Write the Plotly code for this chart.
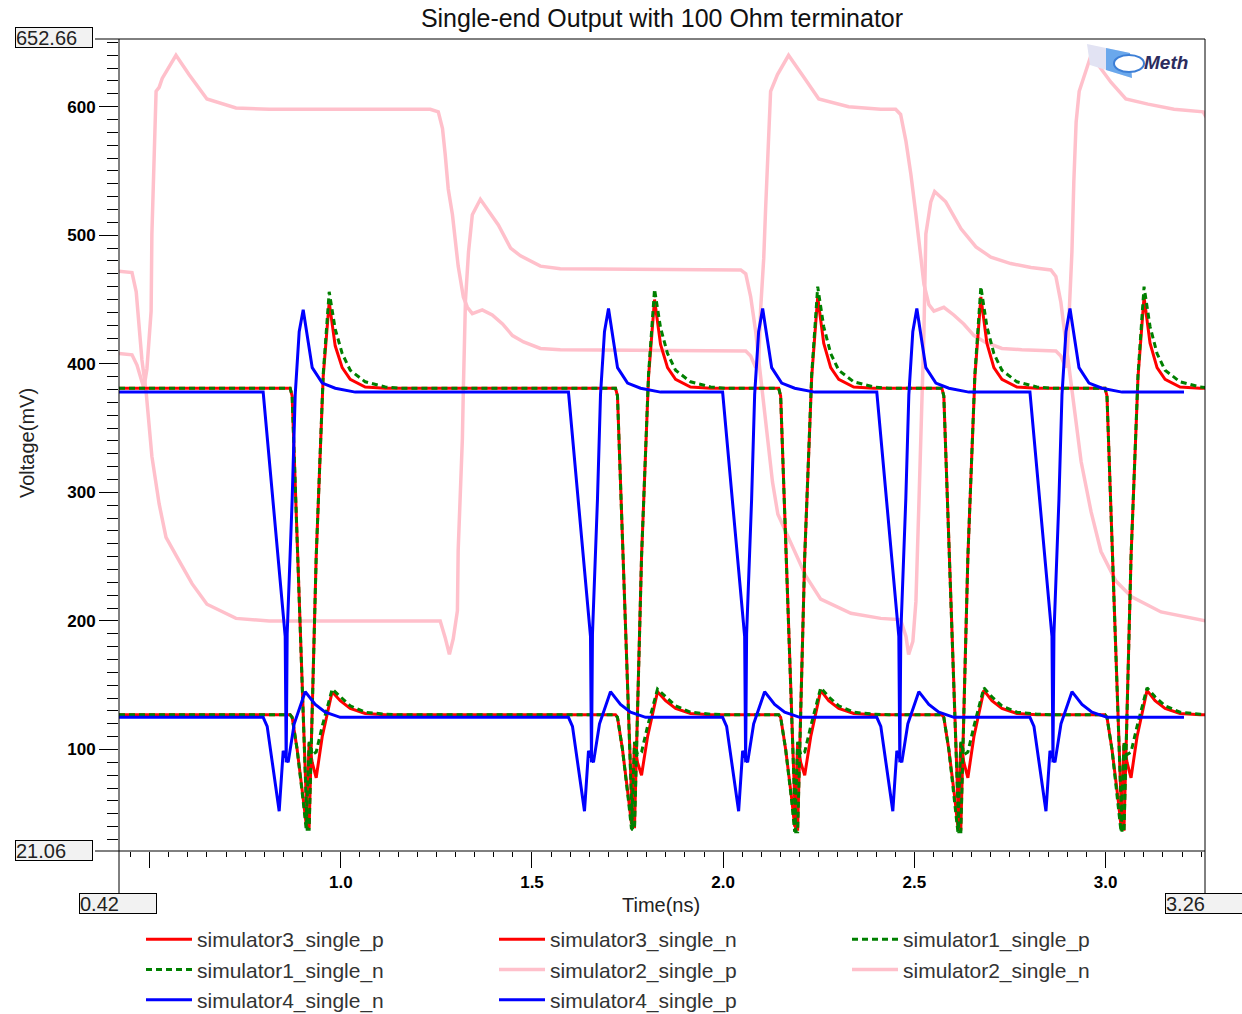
import plotly.graph_objects as go

# ---------------- data (time in ns, voltage in mV) ----------------
sim2_p_t = [0.420, 0.454, 0.465, 0.472, 0.480, 0.491, 0.499, 0.506, 0.525, 0.543, 0.577, 0.611, 0.650, 0.726, 0.813,
            1.260, 1.273, 1.281, 1.284, 1.294, 1.305, 1.307, 1.313, 1.318, 1.3205, 1.323, 1.326, 1.334, 1.344, 1.365,
            1.386, 1.412, 1.444, 1.470, 1.522, 1.574, 2.046, 2.059, 2.072, 2.085, 2.093, 2.103, 2.116, 2.129, 2.143,
            2.163, 2.182, 2.216, 2.255, 2.334, 2.412, 2.464, 2.478, 2.485, 2.496, 2.504, 2.512, 2.520, 2.525, 2.530,
            2.543, 2.553, 2.582, 2.622, 2.661, 2.700, 2.752, 2.805, 2.857, 2.870, 2.883, 2.896, 2.904, 2.915, 2.936,
            2.962, 2.988, 3.027, 3.067, 3.145, 3.263]
sim2_p_mv = [472, 471, 456, 427, 403, 378, 351, 328, 291, 265, 247, 229, 213, 202, 200,
             200, 187, 176, 174, 186, 208, 255, 300, 342, 380, 422, 449, 487, 516, 528,
             519, 508, 490, 484, 476, 474, 473, 470, 452, 425, 403, 378, 340, 308, 283,
             270, 258, 235, 217, 206, 202, 201, 188, 174, 184, 215, 293, 371, 425, 501,
             526, 534, 526, 505, 491, 483, 478, 475, 473, 468, 448, 417, 398, 371, 324,
             285, 254, 231, 219, 207, 200]

sim2_n_t = [0.420, 0.454, 0.467, 0.485, 0.493, 0.504, 0.506, 0.512, 0.517, 0.525, 0.533, 0.569, 0.603, 0.650, 0.726,
            0.813, 1.234, 1.255, 1.266, 1.273, 1.281, 1.292, 1.300, 1.307, 1.3205, 1.331, 1.344, 1.370, 1.396, 1.423,
            1.449, 1.478, 1.522, 1.574, 2.059, 2.072, 2.085, 2.093, 2.098, 2.106, 2.111, 2.116, 2.124, 2.142, 2.171,
            2.211, 2.250, 2.328, 2.412, 2.451, 2.464, 2.478, 2.491, 2.504, 2.517, 2.525, 2.538, 2.551, 2.577, 2.603,
            2.629, 2.656, 2.684, 2.729, 2.781, 2.870, 2.883, 2.896, 2.899, 2.904, 2.912, 2.917, 2.923, 2.931, 2.962,
            3.014, 3.053, 3.111, 3.179, 3.255, 3.263]
sim2_n_mv = [408, 407, 399, 381, 396, 441, 501, 561, 612, 615, 622, 640, 625, 606, 599,
             598, 598, 596, 583, 563, 536, 516, 496, 476, 452, 444, 439, 442, 438, 431,
             422, 417, 412, 411, 410, 406, 397, 402, 443, 482, 521, 560, 612, 625, 640,
             623, 606, 600, 598, 598, 594, 573, 547, 516, 485, 462, 446, 441, 444, 438,
             431, 422, 417, 412, 411, 410, 406, 397, 402, 433, 487, 542, 588, 612, 640,
             619, 606, 602, 598, 596, 592]

sim3_p_t = [0.420,
            0.8676, 0.8728, 0.9121, 0.9173, 0.9357, 0.9540, 0.9697, 0.9854, 1.0037, 1.0247, 1.0639, 1.1163,
            1.7184, 1.7236, 1.7629, 1.7681, 1.7865, 1.8048, 1.8205, 1.8362, 1.8545, 1.8755, 1.9147, 1.9671,
            2.1451, 2.1503, 2.1896, 2.1948, 2.2132, 2.2315, 2.2472, 2.2629, 2.2812, 2.3022, 2.3414, 2.3938,
            2.5718, 2.5770, 2.6163, 2.6215, 2.6399, 2.6582, 2.6739, 2.6896, 2.7079, 2.7289, 2.7681, 2.8205,
            2.9985, 3.0037, 3.0430, 3.0482, 3.0666, 3.0849, 3.1006, 3.1163, 3.1346, 3.1556, 3.1948, 3.2472,
            3.260]
sim3_p_mv = [381,
             381, 375, 40, 40, 250, 390, 448, 414, 397, 388, 382, 381,
             381, 375, 40, 40, 250, 390, 450, 415, 397, 388, 382, 381,
             381, 375, 38, 38, 250, 390, 452, 416, 397, 388, 382, 381,
             381, 375, 38, 38, 250, 390, 452, 416, 397, 388, 382, 381,
             381, 375, 38, 38, 250, 390, 452, 416, 397, 388, 382, 381,
             381]

sim1_p_t = [0.420,
            0.8676, 0.8728, 0.9121, 0.9173, 0.9357, 0.9540, 0.9697, 0.9854, 1.0037, 1.0247, 1.0639, 1.1163, 1.1556,
            1.7184, 1.7236, 1.7629, 1.7681, 1.7865, 1.8048, 1.8205, 1.8362, 1.8545, 1.8755, 1.9147, 1.9671, 2.0064,
            2.1451, 2.1503, 2.1896, 2.1948, 2.2132, 2.2315, 2.2472, 2.2629, 2.2812, 2.3022, 2.3414, 2.3938, 2.4331,
            2.5718, 2.5770, 2.6163, 2.6215, 2.6399, 2.6582, 2.6739, 2.6896, 2.7079, 2.7289, 2.7681, 2.8205, 2.8598,
            2.9985, 3.0037, 3.0430, 3.0482, 3.0666, 3.0849, 3.1006, 3.1163, 3.1346, 3.1556, 3.1948, 3.2472,
            3.260]
sim1_p_mv = [381,
             381, 375, 38, 38, 250, 392, 456, 427, 408, 395, 386, 382, 381,
             381, 375, 38, 38, 250, 392, 458, 428, 408, 395, 386, 382, 381,
             381, 375, 36, 36, 250, 392, 460, 429, 408, 395, 386, 382, 381,
             381, 375, 36, 36, 250, 392, 460, 429, 408, 395, 386, 382, 381,
             381, 375, 36, 36, 250, 392, 460, 429, 408, 395, 386, 382,
             381.5]

sim3_n_t = [0.420,
            0.8676, 0.8728, 0.8859, 0.9016, 0.9095, 0.9173, 0.9252, 0.9357, 0.9514, 0.9775, 0.9985, 1.0247, 1.0639, 1.1163,
            1.7184, 1.7236, 1.7367, 1.7524, 1.7603, 1.7681, 1.7760, 1.7865, 1.8022, 1.8283, 1.8493, 1.8755, 1.9147, 1.9671,
            2.1451, 2.1503, 2.1634, 2.1791, 2.1870, 2.1948, 2.2027, 2.2132, 2.2289, 2.2550, 2.2760, 2.3022, 2.3414, 2.3938,
            2.5718, 2.5770, 2.5901, 2.6058, 2.6137, 2.6215, 2.6294, 2.6399, 2.6556, 2.6817, 2.7027, 2.7289, 2.7681, 2.8205,
            2.9985, 3.0037, 3.0168, 3.0325, 3.0404, 3.0482, 3.0561, 3.0666, 3.0823, 3.1084, 3.1294, 3.1556, 3.1948, 3.2472,
            3.260]
sim3_n_mv = [127,
             127, 125, 100, 62, 42, 105, 90, 78, 110, 145, 138, 132, 128, 127,
             127, 125, 100, 62, 42, 105, 90, 80, 110, 145, 138, 132, 128, 127,
             127, 125, 100, 62, 40, 105, 90, 80, 110, 146, 138, 132, 128, 127,
             127, 125, 100, 62, 40, 105, 90, 78, 110, 146, 138, 132, 128, 127,
             127, 125, 100, 62, 40, 105, 90, 78, 110, 146, 138, 132, 128, 127,
             127]

sim1_n_t = [0.420,
            0.8676, 0.8728, 0.8859, 0.9016, 0.9095, 0.9173, 0.9252, 0.9357, 0.9514, 0.9775, 0.9985, 1.0247, 1.0639, 1.1163, 1.1556,
            1.7184, 1.7236, 1.7367, 1.7524, 1.7603, 1.7681, 1.7760, 1.7865, 1.8022, 1.8283, 1.8493, 1.8755, 1.9147, 1.9671, 2.0064,
            2.1451, 2.1503, 2.1634, 2.1791, 2.1870, 2.1948, 2.2027, 2.2132, 2.2289, 2.2550, 2.2760, 2.3022, 2.3414, 2.3938, 2.4331,
            2.5718, 2.5770, 2.5901, 2.6058, 2.6137, 2.6215, 2.6294, 2.6399, 2.6556, 2.6817, 2.7027, 2.7289, 2.7681, 2.8205, 2.8598,
            2.9985, 3.0037, 3.0168, 3.0325, 3.0404, 3.0482, 3.0561, 3.0666, 3.0823, 3.1084, 3.1294, 3.1556, 3.1948, 3.2472,
            3.260]
sim1_n_mv = [127,
             127, 125, 100, 60, 38, 106, 96, 98, 118, 147, 141, 134, 129, 127.5, 127,
             127, 125, 100, 60, 38, 106, 96, 98, 118, 147, 141, 134, 129, 127.5, 127,
             127, 125, 100, 60, 36, 106, 96, 98, 118, 148, 141, 134, 129, 127.5, 127,
             127, 125, 100, 60, 36, 106, 96, 98, 118, 148, 141, 134, 129, 127.5, 127,
             127, 125, 100, 60, 36, 106, 96, 98, 118, 148, 141, 134, 129, 127.5,
             127]

sim4_p_t = [0.420,
            0.7970, 0.8546, 0.8572, 0.8598, 0.8729, 0.8808, 0.8912, 0.9017, 0.9253, 0.9515, 0.9855, 1.0378,
            1.5954, 1.6530, 1.6556, 1.6582, 1.6713, 1.6792, 1.6896, 1.7001, 1.7237, 1.7499, 1.7839, 1.8362,
            1.9985, 2.0561, 2.0587, 2.0613, 2.0744, 2.0823, 2.0927, 2.1032, 2.1268, 2.1530, 2.1870, 2.2393,
            2.4017, 2.4593, 2.4619, 2.4645, 2.4776, 2.4855, 2.4959, 2.5064, 2.5300, 2.5562, 2.5902, 2.6425,
            2.8022, 2.8598, 2.8624, 2.8650, 2.8781, 2.8860, 2.8964, 2.9069, 2.9305, 2.9567, 2.9907, 3.0430,
            3.205]
sim4_p_mv = [378,
             378, 188, 90, 190, 295, 376, 425, 442, 397, 385, 381, 378,
             378, 188, 90, 190, 295, 376, 425, 443, 397, 385, 381, 378,
             378, 188, 90, 190, 295, 376, 425, 443, 397, 385, 381, 378,
             378, 188, 90, 190, 295, 376, 425, 443, 397, 385, 381, 378,
             378, 188, 90, 190, 295, 376, 425, 443, 397, 385, 381, 378,
             378]

sim4_n_t = [0.420,
            0.7970, 0.8075, 0.8389, 0.8494, 0.8624, 0.8782, 0.9069, 0.9331, 0.9593, 0.9986,
            1.5954, 1.6059, 1.6373, 1.6478, 1.6608, 1.6766, 1.7053, 1.7315, 1.7577, 1.7970,
            1.9985, 2.0090, 2.0404, 2.0509, 2.0639, 2.0797, 2.1084, 2.1346, 2.1608, 2.2001,
            2.4017, 2.4122, 2.4436, 2.4541, 2.4671, 2.4829, 2.5116, 2.5378, 2.5640, 2.6033,
            2.8022, 2.8127, 2.8441, 2.8546, 2.8676, 2.8834, 2.9121, 2.9383, 2.9645, 3.0038,
            3.205]
sim4_n_mv = [125,
             125, 118, 52, 99, 90, 120, 145, 135, 129, 125,
             125, 118, 52, 99, 90, 120, 145, 135, 129, 125,
             125, 118, 52, 99, 90, 120, 145, 135, 129, 125,
             125, 118, 52, 99, 90, 120, 145, 135, 129, 125,
             125, 118, 52, 99, 90, 120, 145, 135, 129, 125,
             125]

x_tick_vals = [0.5, 1.0, 1.5, 2.0, 2.5, 3.0]
x_tick_text = ["", "1.0", "1.5", "2.0", "2.5", "3.0"]
x_mid_ticks = [0.75, 1.25, 1.75, 2.25, 2.75, 3.25]
y_tick_vals = [100, 200, 300, 400, 500, 600]
X_RANGE = [0.42, 3.26]
Y_RANGE = [21.06, 652.66]

# ---------------- figure ----------------
FONT = "Liberation Sans, Arial, sans-serif"
W, H = 1242, 1014
PL, PT, PR, PB = 119, 39, 1205, 851   # plot area in pixels
PW, PH = PR - PL, PB - PT
L, T = PL, PT
R, B = W - L - PW, H - T - PH


def px(x):   # pixel x -> paper
    return (x - PL) / PW


def py(y):   # pixel y -> paper
    return (PB - y) / PH


fig = go.Figure()

series = [
    ("simulator2_single_p", sim2_p_t, sim2_p_mv, "#ffc0cb", None, 3.5, 5),
    ("simulator2_single_n", sim2_n_t, sim2_n_mv, "#ffc0cb", None, 3.5, 6),
    ("simulator3_single_p", sim3_p_t, sim3_p_mv, "#ff0000", None, 3, 1),
    ("simulator3_single_n", sim3_n_t, sim3_n_mv, "#ff0000", None, 3, 2),
    ("simulator1_single_p", sim1_p_t, sim1_p_mv, "#008000", "6px,4px", 3, 3),
    ("simulator1_single_n", sim1_n_t, sim1_n_mv, "#008000", "6px,4px", 3, 4),
    ("simulator4_single_n", sim4_n_t, sim4_n_mv, "#0000ff", None, 3, 7),
    ("simulator4_single_p", sim4_p_t, sim4_p_mv, "#0000ff", None, 3, 8),
]
for name, t, v, color, dash, width, rank in series:
    assert len(t) == len(v), name
    fig.add_trace(go.Scatter(x=t, y=v, mode="lines", name=name, legendrank=rank,
                             line=dict(color=color, width=width, dash=dash),
                             hoverinfo="skip"))

tickfont = dict(family=FONT, size=17, color="black", weight="bold")
fig.update_layout(
    width=W, height=H, autosize=False,
    margin=dict(l=L, r=R, t=T, b=B, pad=0, autoexpand=False),
    paper_bgcolor="white", plot_bgcolor="white",
    font=dict(family=FONT, color="#222"),
    title=dict(text="Single-end Output with 100 Ohm terminator", x=662 / W, xanchor="center",
               y=1 - 18 / H, yanchor="middle", font=dict(family=FONT, size=25, color="#111")),
    xaxis=dict(range=X_RANGE, tickmode="array", tickvals=x_tick_vals, ticktext=x_tick_text,
               ticks="outside", ticklen=16, tickwidth=1, tickcolor="black", tickfont=tickfont,
               showgrid=False, zeroline=False, showline=False, automargin=False,
               minor=dict(tickmode="linear", tick0=0, dtick=0.05, ticks="outside", ticklen=5,
                          tickwidth=1, tickcolor="black", showgrid=False)),
    xaxis2=dict(range=X_RANGE, overlaying="x", anchor="y", side="bottom", tickmode="array",
                tickvals=x_mid_ticks, ticks="outside", ticklen=10, tickwidth=1, tickcolor="black",
                showticklabels=False, showgrid=False, zeroline=False, showline=False),
    yaxis=dict(range=Y_RANGE, tickmode="array", tickvals=y_tick_vals,
               ticks="outside", ticklen=19, tickwidth=1, tickcolor="black", tickfont=tickfont,
               showgrid=False, zeroline=False, showline=False, automargin=False,
               minor=dict(tickmode="linear", tick0=0, dtick=10, ticks="outside", ticklen=11,
                          tickwidth=1, tickcolor="black", showgrid=False)),
    legend=dict(orientation="h", x=px(141), xanchor="left", y=py(919), yanchor="top",
                entrywidth=292, entrywidthmode="pixels", itemwidth=46, traceorder="normal",
                font=dict(family=FONT, size=21, color="#333"), bgcolor="rgba(0,0,0,0)"),
    showlegend=True,
    hovermode=False,
)

# frame lines
frame = dict(type="line", xref="paper", yref="paper", line=dict(color="black", width=1), layer="above")
fig.add_shape(x0=px(95), x1=1, y0=1, y1=1, **frame)
fig.add_shape(x0=px(95), x1=1, y0=0, y1=0, **frame)
fig.add_shape(x0=0, x1=0, y0=py(893), y1=1, **frame)
fig.add_shape(x0=1, x1=1, y0=py(893), y1=1, **frame)


# range boxes
def box(text, x_left, y_center):
    fig.add_annotation(xref="paper", yref="paper", x=px(x_left), y=py(y_center), xanchor="left",
                       yanchor="middle", text=text, showarrow=False, align="left", width=76, height=19,
                       bgcolor="#f2f2f2", bordercolor="black", borderwidth=1, borderpad=0,
                       font=dict(family=FONT, size=20, color="#222"))


box(str(Y_RANGE[1]), 15, 37.5)
box(str(Y_RANGE[0]), 15, 850.5)
box(str(X_RANGE[0]), 79, 903.5)
box(str(X_RANGE[1]), 1165, 903.5)

# axis titles
fig.add_annotation(xref="paper", yref="paper", x=px(661), y=py(905), text="Time(ns)", showarrow=False,
                   xanchor="center", yanchor="middle", font=dict(family=FONT, size=20, color="#222"))
fig.add_annotation(xref="paper", yref="paper", x=px(27), y=py(443), text="Voltage(mV)", showarrow=False,
                   textangle=-90, xanchor="center", yanchor="middle", font=dict(family=FONT, size=20, color="#222"))


# logo (decoration)
def path(points):
    return "M " + " L ".join(f"{px(x):.5f},{py(y):.5f}" for x, y in points) + " Z"


fig.add_shape(type="path", xref="paper", yref="paper", path=path([(1087, 44), (1130, 53), (1132, 78), (1090, 65)]),
              fillcolor="#e2e3f3", line=dict(width=0), layer="above")
fig.add_shape(type="path", xref="paper", yref="paper", path=path([(1106, 48), (1130, 53), (1132, 78), (1106, 70)]),
              fillcolor="#6aa8ec", line=dict(width=0), layer="above")
fig.add_shape(type="circle", xref="paper", yref="paper", x0=px(1114), x1=px(1144), y0=py(55), y1=py(72),
              fillcolor="white", line=dict(color="#3d7fd6", width=2), layer="above")
fig.add_annotation(xref="paper", yref="paper", x=px(1166), y=py(62), text="<b><i>Meth</i></b>", showarrow=False,
                   xanchor="center", yanchor="middle", font=dict(family=FONT, size=19, color="#2c2c5e"))

fig.write_html("out.html", config={"displayModeBar": False},
               post_script="document.body.style.margin='0px';")
